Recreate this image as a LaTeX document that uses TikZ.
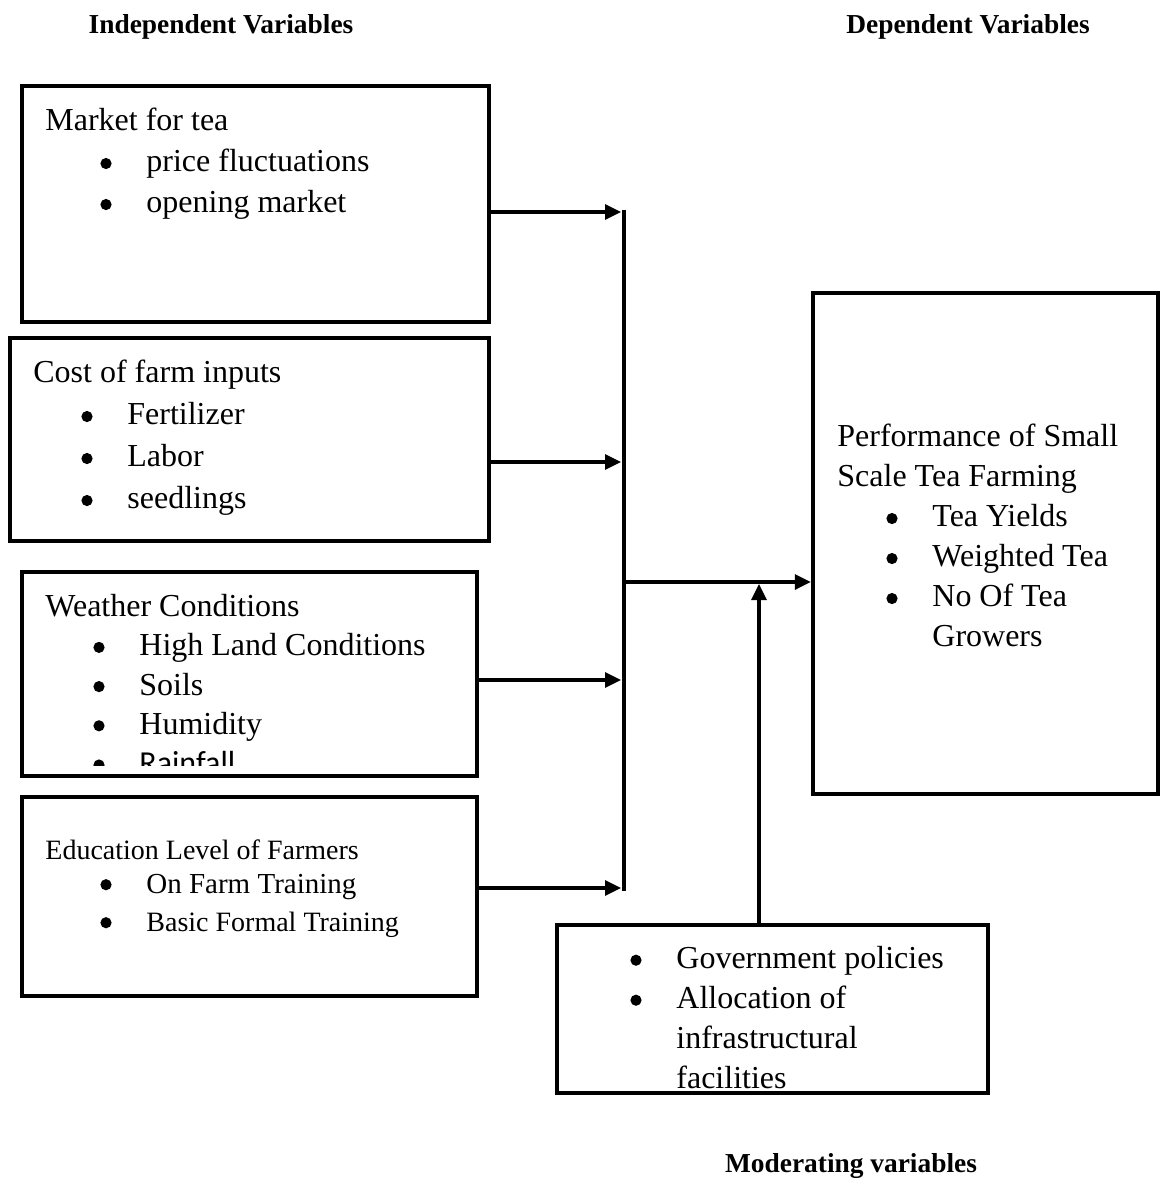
\documentclass[tikz,border=0pt]{standalone}
\usepackage{fontspec}
\setmainfont{Liberation Serif}
\newfontfamily\calibri{Carlito}
\usetikzlibrary{positioning,fit,arrows.meta}

% bullet line: indent of the bullet, then the item text
\newcommand{\bul}{\tikz[baseline=0pt,x=1pt,y=1pt]\fill (2.8pt,4.2pt) circle[x radius=2.8pt,y radius=2.8pt];}
\newcommand{\itm}[2]{\hspace*{#1}\makebox[23pt][l]{\bul}#2}

\tikzset{
  box/.style={draw, line width=2.2pt, inner sep=0pt},
  txt/.style={anchor=north west, inner sep=0pt, align=left,
    font=\fontsize{16}{20}\selectfont},
  conn/.style={line width=1.6pt},
  arr/.style={conn, -{Triangle[length=8pt,width=7.5pt]}},
  ttl/.style={font=\fontsize{13.7}{16}\selectfont\bfseries, inner sep=0pt},
}

\begin{document}
\begin{tikzpicture}[x=0.5pt,y=-0.5pt]
        \useasboundingbox (0,0) rectangle (1161,1182);

        % titles
        \node[ttl] (indep) at (221,27) {Independent Variables};
        \node[ttl] (dep) at (968,27) {Dependent Variables};
        \node[ttl] (moder) at (851,1166) {Moderating variables};

        % independent variables
        \node[box, fit={(22,86) (489,322)}] (market) {};
        \node[txt, font=\fontsize{16}{20.5}\selectfont] (markettxt) at (45,108)
            {Market for tea\\ \itm{27.5pt}{price fluctuations}\\ \itm{27.5pt}{opening market}};

        \node[box, fit={(10,338) (489,541)}] (inputs) {};
        \node[txt, font=\fontsize{16}{21}\selectfont] (inputstxt) at (33,360)
            {Cost of farm inputs\\ \itm{24pt}{Fertilizer}\\ \itm{24pt}{Labor}\\ \itm{24pt}{seedlings}};

        \node[box, fit={(22,572) (477,776)}] (weather) {};
        \begin{scope}
            \clip (24,574) rectangle (475,765);
            \node[txt, font=\fontsize{16}{19.6}\selectfont] (weathertxt) at (45,594)
                {Weather Conditions\\ \itm{24pt}{High Land Conditions}\\ \itm{24pt}{Soils}\\
                 \itm{24pt}{Humidity}\\ \itm{24pt}{\calibri Rainfall}};
        \end{scope}

        \node[box, fit={(22,797) (477,996)}] (educ) {};
        \node[txt, font=\fontsize{14}{19}\selectfont] (eductxt) at (45,839)
            {Education Level of Farmers\\[-2pt]
             \fontsize{14.5}{19}\selectfont\itm{27.5pt}{On Farm Training}\\ \itm{27.5pt}{Basic Formal Training}};

        % dependent variable
        \node[box, fit={(813,293) (1158,794)}] (perf) {};
        \node[txt] (perftxt) at (837,424)
            {Performance of Small\\ Scale Tea Farming\\ \itm{24.5pt}{Tea Yields}\\
             \itm{24.5pt}{Weighted Tea}\\ \itm{24.5pt}{No Of Tea}\\ \hspace*{47.5pt}Growers};

        % moderating variables
        \node[box, fit={(557,925) (988,1093)}] (modbox) {};
        \node[txt] (modtxt) at (630,946)
            {\itm{0pt}{Government policies}\\ \itm{0pt}{Allocation of}\\
             \hspace*{23pt}infrastructural\\ \hspace*{23pt}facilities};

        % collecting line and arrows
        \coordinate (bustop) at (624,210);
        \coordinate (busbot) at (624,891);
        \coordinate (busmid) at (624,582);
        \coordinate (in1) at (621,212);
        \coordinate (in2) at (621,462);
        \coordinate (in3) at (621,680);
        \coordinate (in4) at (621,888);
        \coordinate (modtip) at (759,584);

        \draw[conn] (bustop) -- (busbot);
        \draw[arr] (market.east |- in1) -- (in1);
        \draw[arr] (inputs.east |- in2) -- (in2);
        \draw[arr] (weather.east |- in3) -- (in3);
        \draw[arr] (educ.east |- in4) -- (in4);
        \draw[arr] (busmid) -- (perf.west |- busmid);
        \draw[arr] (modbox.north -| modtip) -- (modtip);

\end{tikzpicture}
\end{document}
